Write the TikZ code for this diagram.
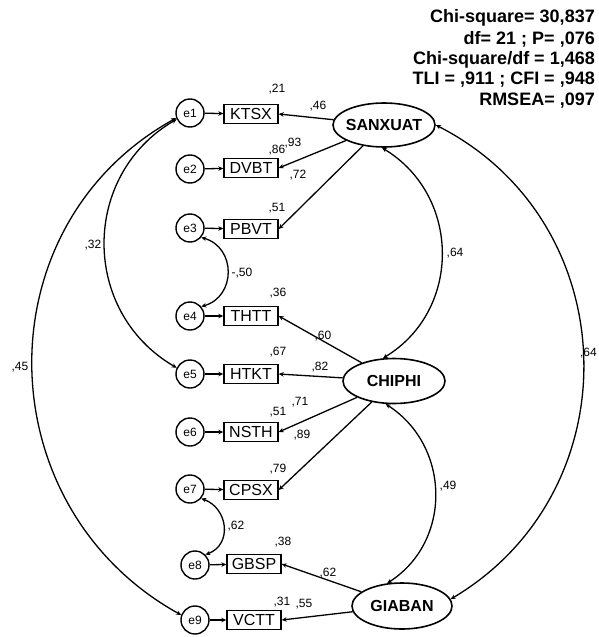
\documentclass[tikz,border=0pt]{standalone}
\usepackage{fontspec}
\setmainfont{Liberation Sans}
\usetikzlibrary{shapes.geometric,arrows.meta}
\begin{document}
\begin{tikzpicture}[x=1pt,y=-1pt,
  err/.style={circle,draw,line width=1.4pt,minimum size=28pt,inner sep=0pt,font=\fontsize{12}{12}\selectfont},
  obs/.style={rectangle,draw,line width=1.4pt,minimum width=54pt,minimum height=19pt,inner sep=0pt,font=\fontsize{16}{16}\selectfont},
  lat/.style={ellipse,draw,line width=1.6pt,inner sep=0pt,font=\bfseries\fontsize{16}{16}\selectfont},
  arr/.style={line width=1.3pt,-{Stealth[length=5pt,width=4.5pt]}},
  cov/.style={line width=1.3pt,{Stealth[length=5pt,width=4.5pt]}-{Stealth[length=5pt,width=4.5pt]}},
  lab/.style={font=\fontsize{12}{12}\selectfont,inner sep=0pt},
  fitx/.style={font=\bfseries\fontsize{18}{18}\selectfont,anchor=east,inner sep=0pt}
]
\useasboundingbox (0,0) rectangle (598,637);

% fit statistics
\node[fitx] (f1) at (595,18) {Chi-square= 30,837};
\node[fitx] (f2) at (595,39) {df= 21 ; P= ,076};
\node[fitx] (f3) at (595,60) {Chi-square/df = 1,468};
\node[fitx] (f4) at (595,80) {TLI = ,911 ; CFI = ,948};
\node[fitx] (f5) at (595,101) {RMSEA= ,097};

% latent variables
\node[lat,minimum width=102pt,minimum height=44pt] (SAN) at (384,125) {\makebox[0pt]{SANXUAT}};
\node[lat,minimum width=102pt,minimum height=45pt] (CHI) at (394,381) {\makebox[0pt]{CHIPHI}};
\node[lat,minimum width=100pt,minimum height=46pt] (GIA) at (402,606) {\makebox[0pt]{GIABAN}};

% observed variables
\node[obs] (KTSX) at (251,114) {KTSX};
\node[obs] (DVBT) at (251,168) {DVBT};
\node[obs] (PBVT) at (251,229) {PBVT};
\node[obs] (THTT) at (251,316) {THTT};
\node[obs] (HTKT) at (251,374) {HTKT};
\node[obs] (NSTH) at (251,432) {NSTH};
\node[obs] (CPSX) at (251,490) {CPSX};
\node[obs] (GBSP) at (254,564) {GBSP};
\node[obs] (VCTT) at (254,620) {VCTT};

% errors
\node[err] (e1) at (190,113) {e1};
\node[err] (e2) at (190,169) {e2};
\node[err] (e3) at (190,228) {e3};
\node[err] (e4) at (190,316) {e4};
\node[err] (e5) at (190,374) {e5};
\node[err] (e6) at (190,432) {e6};
\node[err] (e7) at (190,489) {e7};
\node[err] (e8) at (195,565) {e8};
\node[err] (e9) at (195,620) {e9};

% error -> indicator
\foreach \e/\b in {e1/KTSX,e2/DVBT,e3/PBVT,e4/THTT,e5/HTKT,e6/NSTH,e7/CPSX,e8/GBSP,e9/VCTT}
  \draw[arr] (\e) -- (\b);

% loadings
\foreach \b in {KTSX,DVBT,PBVT} \draw[arr] (SAN) -- (\b.east);
\foreach \b in {THTT,HTKT,NSTH,CPSX} \draw[arr] (CHI) -- (\b.east);
\foreach \b in {GBSP,VCTT} \draw[arr] (GIA) -- (\b.east);

% covariances between latents
\draw[cov] (SAN.-95) .. controls +(79,48) and +(79,-48) .. (CHI.116);
\draw[cov] (CHI.-110) .. controls +(65,42) and +(65,-42) .. (GIA.123);
\draw[cov] (SAN.east) .. controls +(190,97) and +(183,-109) .. (GIA.8);

% covariances between errors
\draw[cov] (e1.205) .. controls +(-96,56) and +(-96,-56) .. (e5.155);
\draw[cov] (e1.200) .. controls +(-195,108) and +(-195,-108) .. (e9.160);
\draw[cov] (e3.-40) .. controls +(35,10) and +(35,-10) .. (e4.40);
\draw[cov] (e7.-40) .. controls +(27,10) and +(27,-10) .. (e8.45);

% labels
\node[lab] (l1) at (277,89) {,21};
\node[lab] (l2) at (318,106) {,46};
\node[lab] (l3) at (277,150) {,86};
\node[lab] (l4) at (293,143) {,93};
\node[lab] (l5) at (298,175) {,72};
\node[lab] (l6) at (277,208) {,51};
\node[lab] (l7) at (278,293) {,36};
\node[lab] (l8) at (242,273) {-,50};
\node[lab] (l9) at (323,336) {,60};
\node[lab] (l10) at (278,352) {,67};
\node[lab] (l11) at (320,367) {,82};
\node[lab] (l12) at (278,412) {,51};
\node[lab] (l13) at (300,402) {,71};
\node[lab] (l14) at (302,435) {,89};
\node[lab] (l15) at (278,469) {,79};
\node[lab] (l16) at (236,526) {,62};
\node[lab] (l17) at (283,542) {,38};
\node[lab] (l18) at (328,573) {,62};
\node[lab] (l19) at (282,602) {,31};
\node[lab] (l20) at (304,604) {,55};
\node[lab] (l21) at (455,253) {,64};
\node[lab] (l22) at (448,486) {,49};
\node[lab,anchor=east] (l23) at (597,353) {,64};
\node[lab] (l24) at (93,245) {,32};
\node[lab] (l25) at (20,367) {,45};
\end{tikzpicture}
\end{document}
